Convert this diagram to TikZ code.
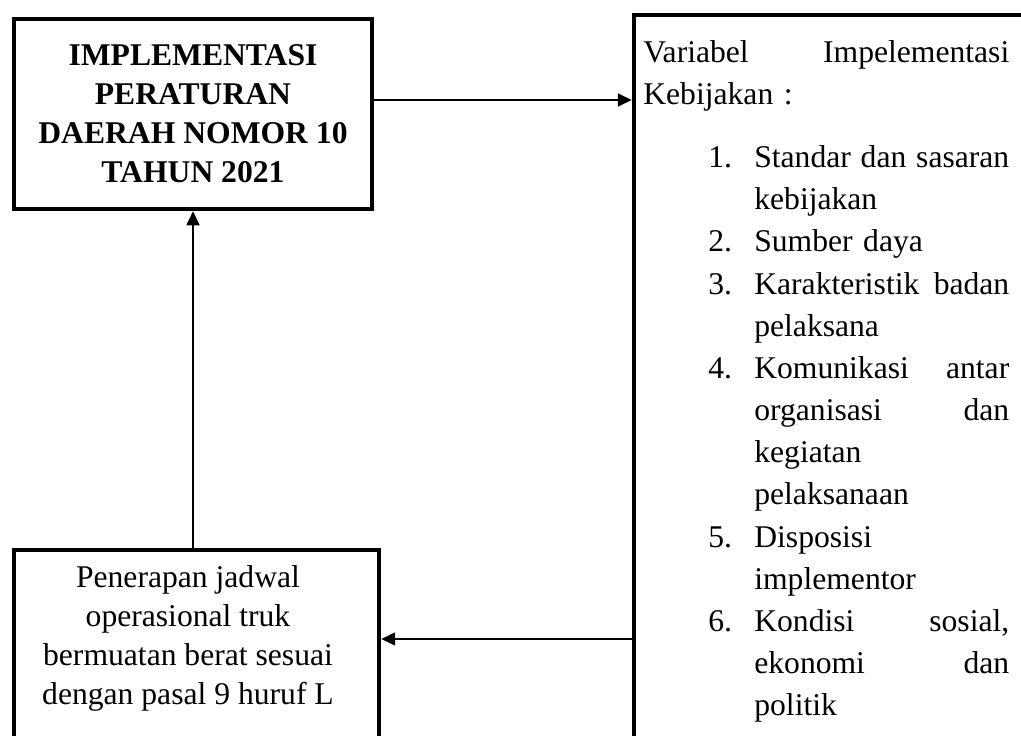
\documentclass[tikz,border=0pt]{standalone}
\usepackage{fontspec}
\setmainfont{Liberation Serif}
\usetikzlibrary{arrows.meta}
\setlength{\parindent}{0pt}
\newcommand{\numline}[2]{\hspace*{1.3cm}\makebox[0.92cm][l]{#1}#2}
\newcommand{\contline}[1]{\hspace*{2.22cm}#1}

\begin{document}
\begin{tikzpicture}[x=0.02cm,y=-0.02cm,
  frame/.style={draw,rectangle,line width=2.6pt,inner sep=0pt},
  txt/.style={inner sep=0pt,font=\fontsize{18}{22.2}\selectfont},
  arr/.style={line width=1pt,-{Triangle[length=0.28cm,width=0.26cm]}}]
  \useasboundingbox (0,0) rectangle (1021,736);
  % boxes
  \node[frame,minimum width=7.16cm,minimum height=3.8cm,align=center,
    font=\bfseries\fontsize{18}{22.2}\selectfont] (impl) at (193,114)
    {IMPLEMENTASI\\PERATURAN\\DAERAH NOMOR 10\\TAHUN 2021};
  \node[frame,minimum width=8.52cm,minimum height=15.3cm] (varbox) at (847,397.5) {};
  \node[frame,minimum width=7.3cm,minimum height=4.6cm] (jadwalbox) at (196.5,665) {};
  % texts
  \node[txt,anchor=north west,text width=7.32cm,align=left,
    font=\fontsize{18}{24}\selectfont] (variabel) at (643,40)
    {Variabel\hfill Impelementasi\\
     Kebijakan :\\[0.42cm]
     \numline{1.}{Standar\hfill dan\hfill sasaran}\\
     \contline{kebijakan}\\
     \numline{2.}{Sumber daya}\\
     \numline{3.}{Karakteristik\hfill badan}\\
     \contline{pelaksana}\\
     \numline{4.}{Komunikasi\hfill antar}\\
     \contline{organisasi\hfill dan}\\
     \contline{kegiatan}\\
     \contline{pelaksanaan}\\
     \numline{5.}{Disposisi}\\
     \contline{implementor}\\
     \numline{6.}{Kondisi\hfill sosial,}\\
     \contline{ekonomi\hfill dan}\\
     \contline{politik}};
  \node[txt,anchor=north,align=center] (jadwal) at (188,565)
    {Penerapan jadwal\\operasional truk\\bermuatan berat sesuai\\dengan pasal 9 huruf L};
  % arrows
  \draw[arr] ([yshift=0.28cm]impl.east) -- ([yshift=0.28cm]impl.east -| varbox.west);
  \draw[arr] (varbox.west |- 0,639) -- (jadwalbox.east |- 0,639);
  \draw[arr] (impl.south |- jadwalbox.north) -- (impl.south);
\end{tikzpicture}
\end{document}
